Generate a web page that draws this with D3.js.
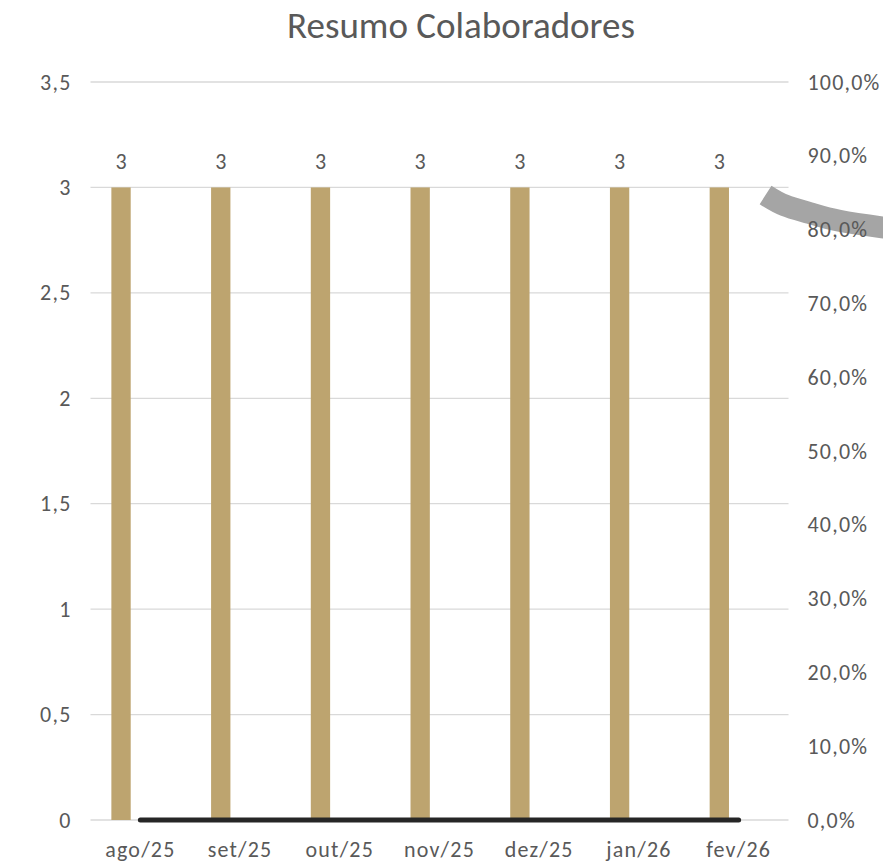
<!DOCTYPE html>
<html>
<head>
<meta charset="utf-8">
<script src="https://cdn.jsdelivr.net/npm/d3@7"></script>
<style>
  html, body { margin: 0; padding: 0; background: #ffffff; }
  svg { display: block; }
  text { font-family: Carlito, Lato, "Open Sans", sans-serif; fill: #595959; }
</style>
</head>
<body>
<svg id="chart" width="883" height="863"></svg>
<script>
// ---- data ----
const categories = ["ago/25", "set/25", "out/25", "nov/25", "dez/25", "jan/26", "fev/26"];
const colaboradores = [3, 3, 3, 3, 3, 3, 3];
const percentual = [0, 0, 0, 0, 0, 0, 0];
// grey smoothed series on secondary axis: [category position, percent]
const curvaCinzaPos = [6.27, 6.46, 6.71, 7.01, 7.44, 7.61];
const curvaCinzaVal = [0.847, 0.833, 0.8225, 0.812, 0.803, 0.800];
const leftTicks = [0, 0.5, 1, 1.5, 2, 2.5, 3, 3.5];
const rightTicks = [0, 0.1, 0.2, 0.3, 0.4, 0.5, 0.6, 0.7, 0.8, 0.9, 1.0];
const seriesNames = ["Colaboradores", "Serie2", "Serie3"];
const title = "Resumo Colaboradores";

// ---- layout ----
const plot = { left: 90.5, right: 788.5, top: 82, bottom: 820 };
const svg = d3.select("#chart");
const locale = d3.formatLocale({ decimal: ",", thousands: ".", grouping: [3], currency: ["R$", ""] });
const fmtLeft = v => locale.format("~g")(v);
const fmtRight = locale.format(".1%");
const FS = 22, LS = 1.2;

const x = d3.scaleBand().domain(categories).range([plot.left, plot.right]).paddingInner(0).paddingOuter(0);
const xSub = d3.scaleBand().domain(seriesNames).range([0, x.bandwidth()]).paddingInner(0).paddingOuter(1.08);
const y = d3.scaleLinear().domain([0, 3.5]).range([plot.bottom, plot.top]);
const y2 = d3.scaleLinear().domain([0, 1]).range([plot.bottom, plot.top]);
const xPos = i => x(categories[0]) + x.bandwidth() / 2 + i * x.step();

// gridlines
svg.append("g").selectAll("line").data(leftTicks).join("line")
  .attr("x1", plot.left).attr("x2", plot.right)
  .attr("y1", d => y(d)).attr("y2", d => y(d))
  .attr("stroke", "#d9d9d9").attr("stroke-width", 1.3);

// bars
svg.append("g").selectAll("rect").data(colaboradores).join("rect")
  .attr("x", (d, i) => x(categories[i]) + xSub(seriesNames[0]))
  .attr("width", xSub.bandwidth())
  .attr("y", d => y(d))
  .attr("height", d => y(0) - y(d))
  .attr("fill", "#bda46f");

// percent line (secondary axis)
const line = d3.line().x((d, i) => xPos(i)).y(d => y2(d));
svg.append("path").datum(percentual)
  .attr("d", line)
  .attr("fill", "none").attr("stroke", "#262626").attr("stroke-width", 5)
  .attr("stroke-linecap", "round");

// grey smoothed series
const curveData = curvaCinzaPos.map((p, i) => [p, curvaCinzaVal[i]]);
const line2 = d3.line().curve(d3.curveNatural).x(d => xPos(d[0])).y(d => y2(d[1]));
svg.append("path").datum(curveData)
  .attr("d", line2)
  .attr("fill", "none").attr("stroke", "#a5a5a5").attr("stroke-width", 22)
  .attr("stroke-linecap", "butt");

// left axis
const gL = svg.append("g").attr("transform", `translate(${plot.left},0)`)
  .call(d3.axisLeft(y).tickValues(leftTicks).tickFormat(fmtLeft).tickSize(0).tickPadding(19));
gL.select(".domain").remove();

// right axis
const gR = svg.append("g").attr("transform", `translate(${plot.right},0)`)
  .call(d3.axisRight(y2).tickValues(rightTicks).tickFormat(fmtRight).tickSize(0).tickPadding(19));
gR.select(".domain").remove();

// x axis
const gX = svg.append("g").attr("transform", `translate(0,${plot.bottom})`)
  .call(d3.axisBottom(x).tickSize(0).tickPadding(21));
gX.select(".domain").remove();

svg.selectAll(".tick text").attr("font-size", FS).attr("fill", "#595959")
  .attr("letter-spacing", LS)
  .style("font-family", "Carlito, Lato, 'Open Sans', sans-serif");

// data labels
svg.append("g").selectAll("text").data(colaboradores).join("text")
  .attr("x", (d, i) => x(categories[i]) + xSub(seriesNames[0]) + xSub.bandwidth() / 2)
  .attr("y", d => y(d) - 18)
  .attr("text-anchor", "middle")
  .attr("font-size", FS)
  .text(d => fmtLeft(d));

// title
const t = svg.append("text")
  .attr("x", 461).attr("y", 38)
  .attr("text-anchor", "middle")
  .attr("font-size", 32)
  .text(title);
const tw = t.node().getComputedTextLength();
t.attr("font-size", 32 * 348 / tw);
</script>
</body>
</html>
